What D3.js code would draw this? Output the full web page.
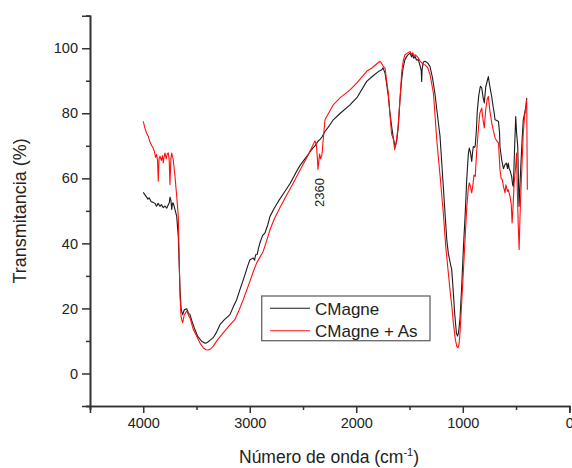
<!DOCTYPE html>
<html>
<head>
<meta charset="utf-8">
<script src="https://cdn.jsdelivr.net/npm/d3@7"></script>
<style>
  body { margin: 0; background: #fff; }
  text { font-family: "Liberation Sans", Arial, sans-serif; fill: #222; }
</style>
</head>
<body>
<svg id="chart" width="572" height="468"></svg>
<script>
// FTIR spectra: [wavenumber (cm-1), transmittance (%)]
const cmagne = [
  [4000,55.7],[3985,55],[3970,54.3],[3956,53.6],[3945,54],[3925,52.8],[3906,52.6],[3890,52.3],
  [3875,51.4],[3860,52.3],[3843,51.4],[3830,51.9],[3812,51],[3796,51.5],[3780,50.8],[3765,51.9],
  [3755,52.6],[3749,54.2],[3740,53.2],[3733,50.4],[3725,52.4],[3718,52.4],[3702,50.4],[3686,48.3],
  [3671,42],[3655,26],[3645,20],[3639,19.1],[3630,18.1],[3615,19.6],[3592,19.9],[3575,18.5],
  [3561,18.1],[3540,15.8],[3515,13.5],[3490,11.5],[3452,9.9],[3420,9.3],[3405,9.4],[3380,10],
  [3343,11],[3310,12.8],[3280,15],[3240,16.5],[3186,18.1],[3150,20.8],[3123,22.7],[3090,26],
  [3061,28.8],[3045,30.4],[3020,33],[2998,35],[2985,35.2],[2967,35.5],[2955,34.8],[2945,36.5],
  [2930,36.6],[2920,38.2],[2904,40.2],[2880,42.4],[2857,43.2],[2830,45.8],[2810,48.3],[2770,50.8],
  [2732,52.9],[2680,55.5],[2620,58.5],[2560,62.2],[2529,63.9],[2470,66.5],[2420,68.8],[2388,70],
  [2370,70.8],[2360,71.4],[2340,72],[2322,72.7],[2294,74.4],[2250,76.3],[2216,78],[2150,80],
  [2059,82.6],[1990,85],[1902,89.8],[1850,91.3],[1793,92.8],[1761,93.4],[1749,94],[1740,93.2],
  [1730,92.4],[1715,89],[1699,85.2],[1685,80.5],[1668,76],[1650,72],[1636,69.8],[1620,71.5],
  [1605,76],[1590,84],[1574,90.3],[1560,94],[1543,96.5],[1520,97.8],[1495,98.5],[1480,97.3],
  [1470,98.2],[1460,96.9],[1448,97.5],[1435,96.4],[1418,96.5],[1400,94.5],[1390,93],[1386,89.8],
  [1382,93.5],[1370,95.8],[1355,96],[1330,95.5],[1308,94.4],[1285,91],[1261,86],[1240,80],
  [1214,73],[1190,61],[1167,49.4],[1150,41],[1136,37],[1115,33.5],[1104,32],[1089,25],
  [1075,18],[1060,12.5],[1050,11.5],[1040,12.5],[1026,17],[1010,27],[995,38],[979,48],
  [963,59.6],[948,67.5],[939,69.3],[928,68],[916,65.2],[908,68],[901,69.8],[890,69.5],
  [883,70],[872,75],[864,80.6],[850,85.5],[835,88.3],[822,87.8],[810,85],[798,83.2],
  [785,88],[770,90],[760,91.3],[750,89],[740,87.2],[728,85],[715,82],[705,80],
  [697,78],[680,77.8],[665,77.5],[655,74],[651,69.8],[635,65.7],[618,63],[604,64.2],
  [590,64.7],[580,63],[573,64.7],[565,63],[557,62.5],[549,61.5],[541,60.6],[532,58],
  [525,57.5],[515,68],[503,79],[495,74],[484,69.8],[478,60],[472,51.4],[463,58],
  [454,64.7],[443,72],[432,78],[416,80.6],[408,82],[400,84.7]
];

const cmagneAs = [
  [4000,77.5],[3985,75.5],[3970,74],[3953,72.9],[3935,71],[3920,70],[3906,69.3],[3895,68.2],
  [3885,66.5],[3874,67.3],[3866,65.5],[3859,59.1],[3852,66],[3843,66.8],[3830,65.5],[3820,67],
  [3812,64.7],[3805,66.5],[3796,67.8],[3785,66],[3775,67.5],[3765,67.8],[3757,66],[3749,58.1],
  [3741,66],[3733,67.8],[3725,66.5],[3718,65.7],[3710,63],[3702,60.6],[3686,54.5],[3671,48.3],
  [3655,23.7],[3645,17.5],[3639,16.6],[3630,15.6],[3615,18],[3592,19.2],[3587,19.1],[3575,17.8],
  [3561,17.1],[3530,13.5],[3499,11.5],[3470,9.5],[3437,7.9],[3410,7.3],[3390,7.2],[3365,7.6],
  [3343,8.4],[3300,10.5],[3249,12.5],[3190,14.8],[3139,16.6],[3100,19.5],[3061,22.7],[3030,25.5],
  [2998,28.4],[2965,31.5],[2935,34],[2900,36],[2873,37.6],[2840,41],[2810,44.2],[2770,47.5],
  [2716,51],[2660,54.5],[2600,58],[2529,62.5],[2470,66],[2420,69.3],[2388,71.5],[2375,70.5],
  [2365,66],[2360,62.7],[2352,65],[2345,67.5],[2335,66],[2322,67.3],[2310,72],[2294,78],
  [2260,80],[2216,82.6],[2150,84.8],[2059,87.2],[1990,89.5],[1902,92.9],[1850,94],[1793,95.6],
  [1777,96],[1765,95.5],[1749,94.5],[1730,93.9],[1715,90],[1699,86.2],[1685,80],[1668,73.5],
  [1650,71.9],[1640,68.8],[1630,70],[1610,75],[1590,84],[1574,92.4],[1560,96],[1543,98],
  [1520,98.5],[1495,99],[1480,98],[1470,98.6],[1460,97.6],[1448,98],[1430,97.5],[1418,97],
  [1400,96],[1385,95.5],[1370,95],[1355,94.9],[1330,94],[1308,92],[1275,86],[1245,72],
  [1214,61],[1183,49.4],[1160,39],[1136,31],[1115,24],[1104,21],[1089,15.7],[1070,10.5],
  [1057,8.4],[1045,7.9],[1035,9],[1026,12.5],[1010,22],[995,31],[979,41],[963,51],
  [948,57],[939,58.6],[928,57.5],[916,55.5],[905,58],[895,61],[883,60.6],[870,68],
  [854,75],[840,80],[822,81.6],[810,78],[798,75.5],[785,81],[770,84.5],[760,85.2],
  [745,80.5],[728,77],[712,74.5],[697,72.4],[680,71.5],[665,70.9],[651,62.7],[640,60],
  [629,59.6],[618,57.5],[604,55.5],[595,58],[580,56],[573,56.5],[557,54.5],[545,52],
  [537,46.3],[530,50],[518,58.6],[505,63],[495,67.8],[487,55],[480,46.3],[471,38.1],
  [463,48],[454,56.5],[443,65],[432,74],[420,79],[410,81.1],[400,84.2],[394,56.5]
];

const seriesNames = ["CMagne", "CMagne + As"];
const seriesColors = ["#1a1a1a", "#ff1010"];
const xMajorTicks = [4000, 3000, 2000, 1000, 0];
const xMinorTicks = [4500, 3500, 2500, 1500, 500];
const yMajorTicks = [0, 20, 40, 60, 80, 100];
const yMinorTicks = [-10, 10, 30, 50, 70, 90, 110];
const peakLabel = { wn: 2360, text: "2360" };

const svg = d3.select("#chart");
const plotLeft = 90, plotRight = 569.3, plotTop = 15.7, plotBottom = 406;

const x = d3.scaleLinear().domain([4500, 0]).range([plotLeft, plotRight]);
const y = d3.scaleLinear().domain([-10, 110]).range([plotBottom, plotTop]);

// spectra
const line = d3.line().x(d => x(d[0])).y(d => y(d[1]));
[cmagne, cmagneAs].forEach((data, i) => {
  svg.append("path")
    .datum(data)
    .attr("fill", "none")
    .attr("stroke", seriesColors[i])
    .attr("stroke-width", 1.1)
    .attr("stroke-linejoin", "round")
    .attr("d", line);
});

// axes
function styleAxis(g) {
  g.selectAll("path.domain").attr("stroke", "#333").attr("stroke-width", 1.6);
  g.selectAll(".tick line").attr("stroke", "#333").attr("stroke-width", 1.5);
  g.selectAll(".tick text").style("font-family", "'Liberation Sans', Arial, sans-serif")
    .style("font-size", "14.5px").attr("fill", "#222");
}

svg.append("g").attr("transform", `translate(0,${plotBottom})`)
  .call(d3.axisBottom(x).tickValues(xMinorTicks).tickSize(4).tickFormat(""))
  .call(styleAxis);
svg.append("g").attr("transform", `translate(0,${plotBottom})`)
  .call(d3.axisBottom(x).tickValues(xMajorTicks).tickSize(7).tickPadding(5).tickFormat(d3.format("d")))
  .call(styleAxis);

svg.append("g").attr("transform", `translate(${plotLeft},0)`)
  .call(d3.axisLeft(y).tickValues(yMinorTicks).tickSize(4).tickFormat(""))
  .call(styleAxis);
svg.append("g").attr("transform", `translate(${plotLeft},0)`)
  .call(d3.axisLeft(y).tickValues(yMajorTicks).tickSize(8).tickPadding(4).tickFormat(d3.format("d")))
  .call(styleAxis);

// axis titles
svg.append("text")
  .attr("transform", `translate(26,${(plotTop + plotBottom) / 2}) rotate(-90)`)
  .attr("text-anchor", "middle")
  .style("font-size", "18px")
  .text("Transmitancia (%)");

const xt = svg.append("text")
  .attr("x", 329).attr("y", 463)
  .attr("text-anchor", "middle")
  .style("font-size", "17.5px");
xt.append("tspan").text("Número de onda (cm");
xt.append("tspan").attr("dy", -7).style("font-size", "11px").text("-1");
xt.append("tspan").attr("dy", 7).text(")");

// peak annotation
svg.append("text")
  .attr("transform", `translate(${x(peakLabel.wn) + 6},192.5) rotate(-90)`)
  .attr("text-anchor", "middle")
  .style("font-size", "13px")
  .text(peakLabel.text);

// legend
const lg = svg.append("g");
lg.append("rect")
  .attr("x", 261.7).attr("y", 296).attr("width", 168.3).attr("height", 44.7)
  .attr("fill", "#fff").attr("stroke", "#666").attr("stroke-width", 1.3);
seriesNames.forEach((name, i) => {
  const ly = 308.3 + i * 22.4;
  lg.append("line").attr("x1", 270).attr("x2", 310).attr("y1", ly).attr("y2", ly)
    .attr("stroke", seriesColors[i]).attr("stroke-width", 1.1);
  lg.append("text").attr("x", 315).attr("y", ly + 6.2)
    .style("font-size", "17px").text(name);
});
</script>
</body>
</html>
